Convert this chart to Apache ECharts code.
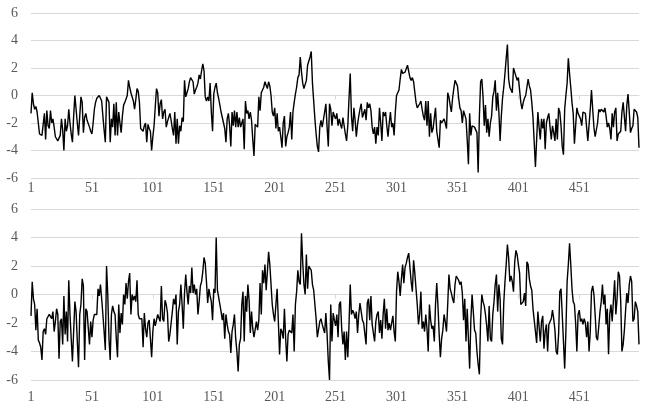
<!DOCTYPE html>
<html>
<head>
<meta charset="utf-8">
<script src="https://cdn.jsdelivr.net/npm/echarts@6/dist/echarts.min.js"></script>
<style>
  html, body { margin: 0; padding: 0; background: #fff; }
  #chart { width: 655px; height: 415px; }
</style>
</head>
<body>
<div id="chart"></div>
<script>
// upper panel, 500 observations
var seriesTop = [
  -1.3, 0.2, -0.6, -1.0, -0.8, -1.2, -2.0, -2.8, -2.7, -2.9,
  -2.9, -1.3, -3.2, -1.1, -2.2, -2.4, -1.1, -2.0, -1.7, -2.3,
  -3.0, -3.1, -3.3, -3.2, -2.9, -1.7, -2.5, -4.0, -1.7, -2.6,
  -2.2, -1.0, -2.0, -2.8, -3.4, -1.5, 0.0, -1.0, -2.0, -2.9,
  -1.5, -0.1, -0.5, -2.7, -1.6, -1.3, -1.8, -1.7, -2.3, -2.6,
  -2.8, -2.0, -1.0, -0.5, -0.2, -0.1, 0.0, -0.2, -0.4, -1.5,
  -2.5, -3.4, -0.1, -0.3, -0.5, -3.4, -1.7, -2.3, -0.6, -2.9,
  -0.5, -2.9, -1.2, -2.0, -2.7, -1.5, -0.7, -0.5, -0.4, 0.0,
  1.1, 0.6, 0.2, 0.3, -0.4, -1.0, -0.3, 0.5, 0.3, -0.5,
  -2.4, -2.3, -2.6, -2.2, -2.0, -3.4, -2.1, -2.4, -2.6, -4.0,
  -3.0, -2.2, -0.8, 0.5, 0.2, -1.5, -0.6, -0.3, -1.7, -1.2,
  -1.0, -2.3, -1.9, -2.0, -1.3, -1.8, -2.4, -2.9, -1.2, -3.5,
  -1.7, -3.5, -2.2, -2.6, -1.6, -1.9, 1.1, -0.1, 0.2, 0.5,
  1.0, 1.3, 1.2, 1.0, 0.1, 0.4, 0.6, 0.9, 1.5, 1.2,
  1.8, 2.3, 1.8, -0.1, -0.4, -0.1, -0.4, 0.9, -1.2, -2.6,
  0.1, 0.6, 0.9, 0.2, -0.2, -0.7, -1.2, -1.6, -1.7, -2.4,
  -3.4, -1.7, -1.3, -2.2, -3.7, -1.2, -2.2, -1.1, -2.3, -1.2,
  -2.3, -1.6, -2.3, -2.0, -1.7, -3.9, -0.4, -1.3, -1.1, -1.7,
  -1.2, -1.8, -3.2, -4.4, -2.1, -2.2, -2.3, -0.1, -1.1, 0.2,
  0.2, 0.6, 1.0, 0.9, 0.5, 1.0, 0.7, 0.0, -1.2, -1.5,
  -0.9, -2.4, -1.3, -2.6, -2.3, -3.0, -3.8, -2.0, -1.5, -3.7,
  -3.0, -2.7, -2.3, -1.2, -3.2, -1.2, -0.5, 0.1, 0.6, 1.3,
  1.5, 2.8, 1.7, 0.9, 0.5, 0.4, 1.1, 2.2, 2.3, 2.8,
  3.2, 0.9, -0.4, -1.7, -2.8, -3.7, -4.1, -2.3, -1.8, -2.3,
  -2.4, -1.2, -0.6, -2.3, -3.7, -0.6, -1.0, -2.2, -1.2, -1.5,
  -1.7, -1.3, -2.2, -1.7, -2.1, -2.4, -1.6, -2.2, -2.8, -3.3,
  -2.2, -0.2, 1.6, -1.5, -2.6, -0.9, -1.8, -3.0, -2.1, -1.5,
  -1.0, -0.6, -1.6, -1.7, -1.0, -1.8, -0.5, -0.9, -0.6, -1.1,
  -2.3, -2.8, -2.3, -3.5, -2.3, -2.9, -0.9, -2.0, -3.3, -1.2,
  -1.5, -1.2, -2.2, -3.0, -2.0, -1.2, -2.3, -2.0, -2.9, -1.2,
  0.0, 0.1, 0.4, 1.2, 1.9, 1.6, 1.7, 1.7, 1.8, 2.2,
  2.3, 1.3, 1.1, 1.3, 1.0, 1.1, -0.5, -0.9, -0.9, -0.6,
  -0.4, -1.0, -1.5, -1.8, -0.4, -2.2, -0.4, -3.0, -1.3, -2.7,
  -2.4, -2.3, -0.9, -2.6, -3.2, -3.8, -1.8, -2.0, -2.1, -1.7,
  -2.0, -2.4, 0.2, -0.1, -0.7, -1.2, -0.2, 0.5, 1.1, 1.0,
  0.7, -0.2, -0.9, -1.1, -2.0, -1.1, -1.2, -1.7, -3.2, -5.0,
  -1.3, -2.9, -2.2, -2.1, -2.3, -2.4, -2.7, -5.6, -1.5, 1.0,
  1.2, -0.1, -2.2, -0.7, -2.7, -1.7, -3.0, -2.0, -1.5, -0.1,
  0.3, 1.1, -1.1, 0.2, -1.2, -3.3, -1.5, -0.2, 0.6, 1.6,
  2.7, 3.7, 1.2, 0.6, 0.4, 0.2, 2.0, 1.7, 1.6, 1.1,
  1.3, 1.2, -0.5, -1.0, -0.5, -0.2, 0.0, 0.6, 1.2, 0.7,
  0.4, -0.5, -1.6, -1.6, -5.2, -3.2, -1.2, -2.3, -3.2, -1.7,
  -2.4, -1.7, -3.9, -2.0, -1.6, -1.3, -2.3, -3.2, -2.2, -2.7,
  -3.3, -1.7, -3.2, -0.9, -1.2, -2.2, -3.7, -4.3, -1.0, 0.0,
  0.9, 2.7, 1.6, 0.6, -0.5, -1.3, -3.5, -2.2, -0.9, -1.3,
  -1.2, -1.7, -2.2, -1.2, -1.1, -1.3, -2.3, -3.3, -3.3, -1.0,
  0.4, -1.0, -2.3, -3.0, -2.9, -2.0, -1.0, -1.2, -1.0, -1.1,
  -1.2, -0.9, -1.5, -2.3, -2.0, -2.4, -3.2, -1.3, -2.3, -1.2,
  -0.9, -3.3, -2.8, -2.7, -2.6, -1.2, -0.5, -0.5, -2.6, -0.7,
  0.1, -1.2, -2.7, -2.4, -2.2, -1.0, -1.1, -1.2, -1.6, -3.8
];

// lower panel, 500 observations
var seriesBottom = [
  -1.5, 0.9, -0.3, -0.7, -2.5, -1.0, -3.2, -3.4, -3.7, -4.6,
  -2.6, -2.4, -2.8, -1.7, -1.8, -1.4, -1.3, -1.7, -1.2, -2.6,
  -1.9, -1.0, -1.4, -4.5, -1.9, -1.7, -3.5, -0.1, -2.8, -1.2,
  -3.3, 1.0, -1.4, -3.1, -4.7, -2.6, -0.5, -1.2, -3.3, -5.1,
  -1.4, -0.7, 1.1, 0.6, -4.6, -1.0, -1.2, -1.3, -3.5, -1.9,
  -3.0, -1.8, -1.4, -1.3, -1.4, 0.4, -0.1, 0.7, -0.3, -1.4,
  -2.6, -3.9, 2.0, 0.0, -3.1, -4.6, -1.4, -0.8, -1.2, -1.4,
  -3.1, -4.4, -0.7, -2.7, -1.3, -2.1, 0.0, -0.7, 0.8, -0.3,
  0.9, 1.5, -1.4, 0.0, -0.4, -0.1, -0.5, 1.0, -1.4, -1.7,
  -1.8, -1.7, -3.7, -1.3, -2.4, -3.0, -2.0, -1.8, -3.1, -4.4,
  -2.6, -1.7, -2.2, -1.8, -1.4, -1.3, -1.9, 0.6, -1.7, -1.9,
  -0.4, -0.7, -1.3, -3.3, -2.8, -2.0, -1.2, -0.3, -0.7, 0.0,
  -3.5, -1.2, -0.7, 0.7, -0.7, -2.4, 0.1, 1.4, 0.2, -0.7,
  0.6, 0.1, 1.9, 0.1, 0.7, 0.0, 0.4, -1.4, -0.5, 0.6,
  0.9, 1.6, 2.6, 2.2, 0.9, -0.6, 0.4, -0.1, -0.5, -1.8,
  0.4, 0.1, 4.0, 0.3, 0.4, -0.7, -1.2, -1.8, -1.3, -3.1,
  -1.4, -2.1, -2.6, -2.8, -4.1, -2.6, -2.1, -1.4, -3.1, -4.0,
  -5.4, -3.5, -3.1, -0.7, 0.2, -3.3, -0.1, -1.2, 0.7, -0.4,
  -2.7, -1.2, -2.4, -3.0, -3.1, -1.9, -2.5, -1.8, 0.8, -1.4,
  1.7, 0.8, 2.1, 0.3, 1.6, 3.0, 2.1, 0.7, -0.7, -1.4,
  -1.9, -0.7, 0.4, -1.9, -4.2, -2.4, -2.6, -3.1, -1.0, -3.1,
  -4.7, -2.8, -2.5, -2.4, -2.7, -1.4, -4.0, -0.7, 0.2, 1.7,
  0.9, 0.7, 4.3, 2.3, 0.7, 0.0, 2.8, 0.4, 2.0, 1.9,
  1.7, 0.7, 0.3, -0.7, -1.7, -3.0, -3.1, -1.9, -1.7, -2.1,
  -2.4, -2.7, -1.3, -2.8, -4.7, -6.0, -0.7, -3.3, -1.3, -1.8,
  -2.2, -1.4, -3.0, -0.7, -0.5, -2.4, -3.5, -2.6, -4.6, -2.6,
  -4.4, -2.1, 0.7, -1.4, -1.1, -1.3, -1.7, -1.2, -2.7, -1.4,
  -0.6, -1.2, -1.8, -2.0, -2.1, -3.5, -0.6, -0.3, -1.8, -0.1,
  -2.1, -2.7, -3.3, -1.9, -1.4, -1.2, -2.7, -1.8, -3.1, -1.4,
  -0.3, -2.4, -1.0, -2.5, -2.0, -2.5, -2.4, -1.5, -2.6, -3.3,
  0.2, 1.6, 0.9, -0.1, 1.1, 2.1, 0.8, 1.9, 2.2, 2.6,
  2.9, 1.9, 0.9, 0.2, 2.4, 1.5, 1.4, -0.7, -2.1, -1.4,
  0.2, -2.4, -1.9, -2.6, -1.4, -2.4, -4.0, -0.7, -1.8, -2.4,
  -2.2, -3.3, -0.7, 0.8, -0.8, -2.8, -4.4, -3.1, -2.5, -1.4,
  -1.9, -2.6, -0.7, 1.4, 0.4, 0.1, -0.3, -0.6, 0.7, 1.3,
  1.4, 1.0, 0.7, 0.9, 0.1, -1.8, -0.3, -3.3, -1.0, -3.1,
  -5.2, -1.8, 0.0, -1.2, -2.5, -2.7, -4.0, -4.9, -5.6, -1.7,
  0.0, -0.5, -0.8, -1.4, -2.2, -3.3, -0.8, -3.1, -3.3, -1.4,
  -0.5, 0.7, 1.4, -1.2, 0.7, -0.3, -3.1, -3.5, -0.6, 0.9,
  2.1, 3.5, 2.6, 0.9, 1.3, 0.9, 0.2, 2.3, 3.1, 2.8,
  2.1, 1.5, -0.7, -0.7, -0.5, 0.1, -0.8, 2.3, 2.1, 1.1,
  0.6, 0.3, -1.0, -1.8, -2.6, -3.4, -1.2, -1.3, -3.3, -1.9,
  -1.5, -3.8, -2.6, -2.1, -4.0, -2.1, -2.1, -1.7, -1.1, -1.7,
  -2.5, -4.0, -4.2, -2.8, 0.2, 0.4, -1.4, -3.3, -5.2, -2.6,
  0.9, 2.1, 3.6, 2.1, 0.4, -0.5, -0.7, -2.0, -4.0, -1.4,
  -1.1, -1.9, -1.7, -2.1, -1.7, -2.0, -3.0, -1.9, -4.0, -2.6,
  0.2, 0.6, 0.0, -1.4, -3.0, -3.2, -2.2, -1.2, -0.5, 0.7,
  -0.7, 0.0, -2.1, -1.0, -4.2, -1.4, -0.7, -1.9, -0.4, 1.0,
  -1.4, -0.3, 1.6, 1.3, -0.5, -4.0, -3.5, -2.5, -1.1, 0.1,
  -0.6, 0.7, 1.3, 0.9, -1.9, -1.7, -0.5, -0.8, -1.2, -3.5
];

// x categories 1..500
var categories = [];
for (var i = 1; i <= seriesTop.length; i++) categories.push(String(i));

var yMin = -6, yMax = 6, yStep = 2;

var labelFont = {
  color: '#595959',
  fontFamily: 'Liberation Serif',
  fontSize: 14
};

function xAxisFor(idx, margin) {
  return {
    type: 'category',
    gridIndex: idx,
    data: categories,
    boundaryGap: false,
    axisLine: { lineStyle: { color: '#d9d9d9', width: 1 } },
    axisTick: { show: true, interval: 49, length: 4, lineStyle: { color: '#d9d9d9' } },
    axisLabel: Object.assign({ interval: 49, margin: margin }, labelFont),
    splitLine: { show: false }
  };
}

function yAxisFor(idx) {
  return {
    type: 'value',
    gridIndex: idx,
    min: yMin,
    max: yMax,
    interval: yStep,
    axisLine: { show: false },
    axisTick: { show: false },
    axisLabel: Object.assign({ margin: 13 }, labelFont),
    splitLine: { show: true, lineStyle: { color: '#d9d9d9', width: 1 } }
  };
}

var myChart = echarts.init(document.getElementById('chart'));
var option = {
  animation: false,
  backgroundColor: '#fff',
  grid: [
    { left: 31, right: 16, top: 13, height: 165 },
    { left: 31, right: 16, top: 209, height: 171 }
  ],
  xAxis: [xAxisFor(0, 3), xAxisFor(1, 10)],
  yAxis: [yAxisFor(0), yAxisFor(1)],
  series: [
    {
      type: 'line',
      xAxisIndex: 0,
      yAxisIndex: 0,
      data: seriesTop,
      showSymbol: false,
      lineStyle: { color: '#000', width: 1.4 }
    },
    {
      type: 'line',
      xAxisIndex: 1,
      yAxisIndex: 1,
      data: seriesBottom,
      showSymbol: false,
      lineStyle: { color: '#000', width: 1.4 }
    }
  ]
};
myChart.setOption(option);
</script>
</body>
</html>
